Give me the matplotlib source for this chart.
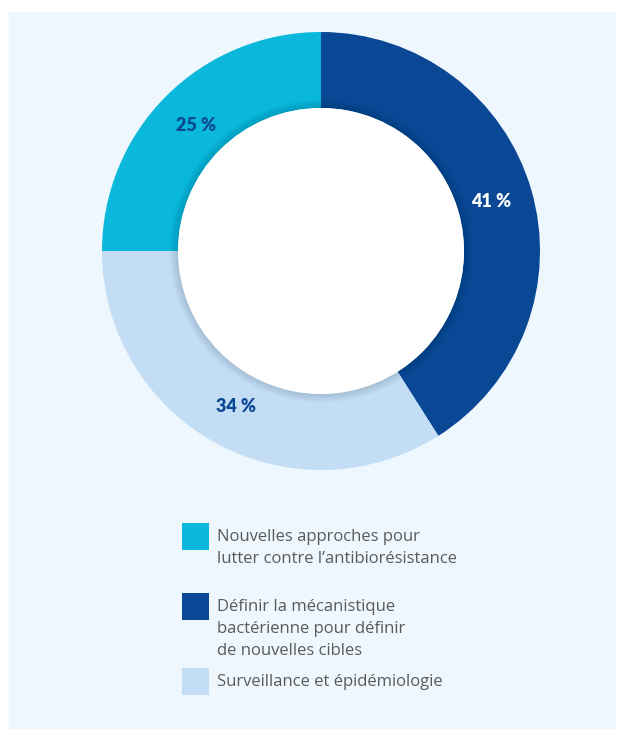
import numpy as np
import matplotlib
matplotlib.use('AGG')
import matplotlib.pyplot as plt
from matplotlib.patches import Circle, Rectangle

# data
labels = ["Définir la mécanistique\nbactérienne pour définir\nde nouvelles cibles",
          "Surveillance et épidémiologie",
          "Nouvelles approches pour\nlutter contre l\u2019antibiorésistance"]
values = [41, 34, 25]
colors = ["#0a4896", "#c3def4", "#0ab8dc"]
pct_colors = ["white", "#0a4896", "#0a4896"]
legend_order = [2, 0, 1]

plt.rcParams['font.family'] = ['Open Sans', 'DejaVu Sans']

W, H = 617, 729
fig = plt.figure(figsize=(W / 100, H / 100), dpi=100, facecolor='white')

# background panel + legend axes in pixel coords
bg = fig.add_axes([0, 0, 1, 1])
bg.set_xlim(0, W)
bg.set_ylim(H, 0)
bg.axis('off')
bg.add_patch(Rectangle((9, 12), 606, 720, color='#eef7fd', zorder=0))

# donut
cx, cy, R = 321, 251, 219
ax = fig.add_axes([(cx - R) / W, 1 - (cy + R) / H, 2 * R / W, 2 * R / H])
ax.set_zorder(2)
ring = 0.347
wedges, texts, autotexts = ax.pie(
    values, colors=colors, startangle=90, counterclock=False, radius=1,
    wedgeprops=dict(width=ring, linewidth=0),
    autopct=lambda p: f'{p:.0f} %', pctdistance=0.81)
for t, c in zip(autotexts, pct_colors):
    t.set_color(c)
    t.set_fontsize(13)
    t.set_fontweight('heavy')
    t.set_fontfamily(['Lato', 'DejaVu Sans'])

# soft shadow around the hole
r_in = 1 - ring
for i in range(10):
    ax.add_patch(Circle((0, 0), r_in + 0.004 * (10 - i), color='black',
                        alpha=0.012, lw=0, zorder=3))
ax.add_patch(Circle((0, 0), r_in, color='white', lw=0, zorder=4))
ax.set_xlim(-1, 1)
ax.set_ylim(-1, 1)
ax.set_aspect('equal')
ax.axis('off')

# legend
tops = [523, 593, 668]
sq = 27
for top, k in zip(tops, legend_order):
    bg.add_patch(Rectangle((182, top), sq, sq, color=colors[k], lw=0))
    bg.text(217, top + 6, labels[k], ha='left', va='top', fontsize=12,
            color='#5a5a5a', linespacing=1.5)

fig.savefig('out.png', dpi=100, facecolor='white')
